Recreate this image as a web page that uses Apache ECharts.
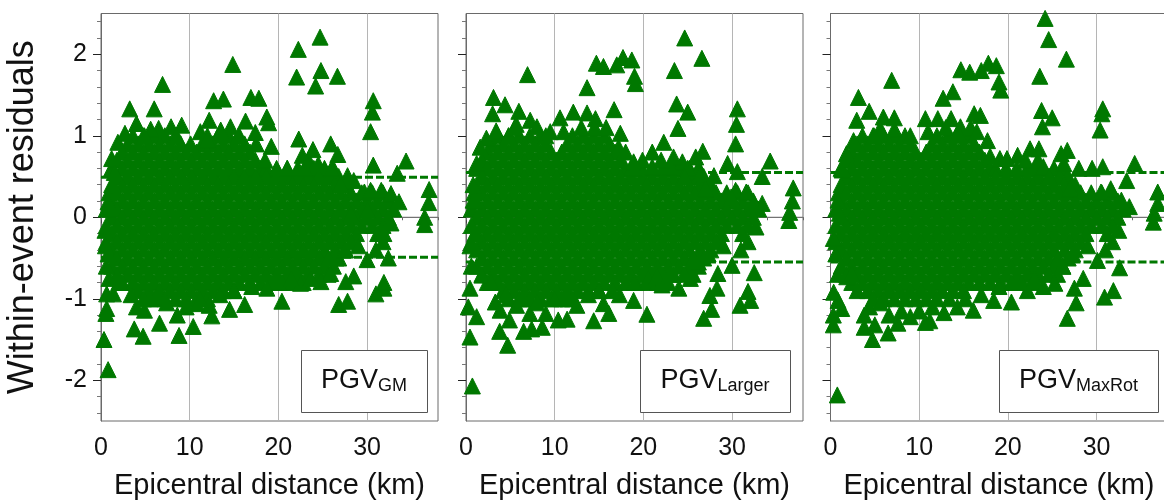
<!DOCTYPE html>
<html><head><meta charset="utf-8">
<style>html,body{margin:0;padding:0;background:#fff;overflow:hidden}#c{width:1164px;height:502px}</style>
<script src="https://cdn.jsdelivr.net/npm/echarts@6/dist/echarts.min.js"></script>
</head><body><div id="c"></div>
<script>
const xMajorTicks=[0,10,20,30];
const xMinorTicks=[0,2,4,6,8,10,12,14,16,18,20,22,24,26,28,30,32,34,36,38];
const yMajorTicks=[-2,-1,0,1,2];
const yMinorTicks=[-2.4,-2.2,-1.8,-1.6,-1.4,-1.2,-0.8,-0.6,-0.4,-0.2,0.2,0.4,0.6,0.8,1.2,1.4,1.6,1.8,2.2,2.4];
const titles=['GM','Larger','MaxRot'];
const limits=[0.49,0.55,0.55];
// dense cloud: [residual, distance, distance, ...]
const cloudRows=[
[1.0,3.6,4.8,6.0,7.2,8.4,12.0,13.2,14.4,15.6],
[0.9,3.0,4.2,5.4,6.6,7.8,9.0,11.4,12.6,13.8,15.0,16.2],
[0.8,2.4,3.6,4.8,6.0,7.2,8.4,9.6,10.8,12.0,13.2,14.4,15.6,16.8],
[0.7,1.8,3.0,4.2,5.4,6.6,7.8,9.0,10.2,11.4,12.6,13.8,15.0,16.2,17.4,23.4],
[0.6,1.2,2.4,3.6,4.8,6.0,7.2,8.4,9.6,10.8,12.0,13.2,14.4,15.6,16.8,18.0,18.6,19.8,21.0,22.2,23.2,24.0,25.2,26.2],
[0.5,1.8,3.0,4.2,5.4,6.6,7.8,9.0,10.2,11.4,12.6,13.8,15.0,16.2,17.4,18.6,19.8,21.0,22.2,23.4,24.6,25.8,26.8],
[0.4,1.2,2.4,3.6,4.8,6.0,7.2,8.4,9.6,10.8,12.0,13.2,14.4,15.6,16.8,18.0,19.2,20.4,21.6,22.8,24.0,25.2,26.4,27.6],
[0.3,0.9,1.8,3.0,4.2,5.4,6.6,7.8,9.0,10.2,11.4,12.6,13.8,15.0,16.2,17.4,18.6,19.8,21.0,22.2,23.4,24.6,25.8,27.0,28.2,29.4,30.6,31.8],
[0.2,1.2,2.4,3.6,4.8,6.0,7.2,8.4,9.6,10.8,12.0,13.2,14.4,15.6,16.8,18.0,19.2,20.4,21.6,22.8,24.0,25.2,26.4,27.6,28.8,30.0,31.2,32.4],
[0.1,0.6,1.8,3.0,4.2,5.4,6.6,7.8,9.0,10.2,11.4,12.6,13.8,15.0,16.2,17.4,18.6,19.8,21.0,22.2,23.4,24.6,25.8,27.0,28.2,29.4,30.6,31.8,33.0],
[0,1.2,2.4,3.6,4.8,6.0,7.2,8.4,9.6,10.8,12.0,13.2,14.4,15.6,16.8,18.0,19.2,20.4,21.6,22.8,24.0,25.2,26.4,27.6,28.8,30.0,31.2,32.4],
[-0.1,0.6,1.8,3.0,4.2,5.4,6.6,7.8,9.0,10.2,11.4,12.6,13.8,15.0,16.2,17.4,18.6,19.8,21.0,22.2,23.4,24.6,25.8,27.0,28.2,29.4,30.6,31.8],
[-0.2,1.2,2.4,3.6,4.8,6.0,7.2,8.4,9.6,10.8,12.0,13.2,14.4,15.6,16.8,18.0,19.2,20.4,21.6,22.8,24.0,25.2,26.4,27.6,28.8,31.2],
[-0.3,0.6,1.8,3.0,4.2,5.4,6.6,7.8,9.0,10.2,11.4,12.6,13.8,15.0,16.2,17.4,18.6,19.8,21.0,22.2,23.4,24.6,25.8,27.0,28.2,31.8],
[-0.4,1.2,2.4,3.6,4.8,6.0,7.2,8.4,9.6,10.8,12.0,13.2,14.4,15.6,16.8,18.0,19.2,20.4,21.6,22.8,24.0,25.2,26.4,27.6],
[-0.5,1.8,3.0,4.2,5.4,6.6,7.8,9.0,10.2,11.4,12.6,13.8,15.0,16.2,17.4,18.6,19.8,21.0,22.2,23.4,24.6,25.6,26.8],
[-0.6,1.2,2.4,3.6,4.8,6.0,7.2,8.4,9.6,10.8,12.0,13.2,14.4,15.6,16.8,18.0,19.2,20.4,21.6,22.8,24.0,25.2,26.2],
[-0.7,1.8,3.0,4.2,5.4,6.6,7.8,9.0,10.2,11.4,12.6,13.8,15.0,16.2,17.4,18.6,19.8,21.0,22.2,23.4,24.6,25.6],
[-0.8,2.4,3.6,4.8,6.0,7.2,8.4,9.6,10.8,12.0,13.2,14.4,15.6,16.8,18.0,19.2,20.4,21.6,22.8],
[-0.9,4.2,5.4,6.6,7.8,9.0,10.2,11.4,12.6,13.8,15.0],
[-1.0,4.8,6.0,7.2,8.4,9.6,10.8,12.0]
];
const gmPoints=[[6.94,1.63],[3.24,1.33],[6,1.33],[14.86,1.875],[22.25,2.06],[24.7,2.21],[22.06,1.72],[24.8,1.8],[24.2,1.61],[26.66,1.73],[30.7,1.43],[30.6,1.29],[30.4,1.05],[30.7,.64],[34.4,.69],[33.4,.54],[37,.34],[36.95,.18],[36.5,0],[36.5,-.09],[12.7,1.43],[13.8,1.45],[16.9,1.47],[17.8,1.46],[18.7,1.23],[18.9,1.16],[12.2,1.19],[16.3,1.18],[17.4,1.04],[9.1,1.13],[7.9,1.11],[6.5,1.09],[5.6,1.08],[4,1.15],[14.6,1.11],[13.5,1.07],[11.2,1.05],[10.1,.9],[22.3,.96],[25.9,.9],[23.9,.83],[22.7,.76],[26.7,.77],[19.2,.87],[1.2,.72],[1.9,.92],[2.7,1.03],[27.8,.51],[28.5,.45],[29.7,.31],[31.6,.33],[32.7,.29],[33.6,.19],[30.4,.33],[28.2,.05],[30,.09],[32.7,-.07],[.45,-.16],[.8,.19],[1.3,.4],[31.9,-.2],[.34,-1.5],[.8,-1.87],[3.75,-1.37],[4.75,-1.46],[8.8,-1.45],[10.4,-1.34],[6.6,-1.3],[12.5,-1.21],[14.5,-1.13],[16.2,-1.07],[20.4,-1.03],[26.8,-1.07],[27.8,-1.03],[27.6,-.79],[28.5,-.72],[31,-.94],[31.9,-.87],[31.9,-.8],[32.4,-.5],[30,-.52],[8.6,-1.2],[4.9,-1.14],[4,-1.1],[10.8,-1.06],[.64,-.94],[1.4,-.94],[.64,-1.12],[.55,-1.18],[.6,-.6],[6.3,-.98],[12.2,-1.08],[24.8,-.79],[22.5,-.81],[25.9,-.69],[18.7,-.87],[.5,-.35],[.9,-.75],[2,-.8],[3.4,-.95],[5.5,-1],[7.4,-1.05],[9.6,-1.1],[11.2,-1],[13.4,-.95],[15,-.9],[17,-.85],[20,-.8],[21.5,-.75],[23.6,-.75],[26.5,-.5],[27.5,-.4],[29,-.35],[31,-.4],[17.5,.9],[18.5,.7],[20,.55],[21,.6],[23,.6],[24.5,.65],[26,.6],[27,.4],[4.9,1],[8.5,1],[12,.95],[15.5,1],[1.5,.55],[1,.1],[.8,-.45]];
const largerPoints=[[6.94,1.75],[3.1,1.47],[4.4,1.38],[3,1.27],[5.96,1.3],[5.66,1.14],[13.65,1.59],[14.7,1.89],[15.5,1.85],[17,1.87],[17.7,1.96],[18.7,1.93],[19,1.73],[19.1,1.64],[24.66,2.2],[26.6,1.95],[23.5,1.8],[23.75,1.39],[25,1.29],[23.9,1.09],[30.6,1.33],[30.5,1.14],[30.4,.9],[29.5,.66],[34.3,.69],[33.4,.5],[30.6,.56],[36.9,.36],[36.8,.2],[36.5,.06],[36.4,-.04],[16.7,1.32],[10.6,1.22],[12.1,1.29],[13.65,1.28],[14.6,1.21],[7.24,1.19],[8,1.11],[3.4,1.06],[2.3,.97],[1.6,.86],[1.2,.66],[17.4,1.03],[17.2,.86],[22.3,.92],[21,.8],[26.7,.81],[25.9,.74],[24.4,.68],[23.4,.74],[19.9,.7],[18.9,.68],[27.96,.51],[26.1,.56],[30.4,.33],[31.6,.31],[33.4,.17],[32.5,.17],[29.9,.25],[.45,-.35],[.8,.21],[.8,.4],[32.7,-.12],[.72,-2.07],[.45,-1.47],[1.2,-1.22],[.26,-1.1],[.45,-.87],[1.8,-.71],[4.7,-1.57],[3.8,-1.4],[4.9,-1.26],[6.5,-1.4],[7.4,-1.37],[8.6,-1.35],[10.4,-1.26],[11.4,-1.25],[14.4,-1.27],[16.1,-1.18],[20.4,-1.19],[26.8,-1.24],[27.7,-1.13],[27.5,-.96],[28.3,-.87],[28.4,-.69],[30,-.59],[32.5,-.68],[31.8,-.91],[32.1,-1.02],[30.9,-1.08],[3.3,-1.04],[3.85,-1.14],[7.2,-1.18],[9,-1.18],[12.5,-1.08],[18.9,-1.02],[22.1,-.83],[24,-.87],[25.3,-.75],[5.7,-1.08],[15.5,-1.06],[17.3,-.95],[4.5,-.95],[6.4,-1],[8,-1.05],[10,-1],[11.5,-1],[13.8,-.95],[15,-.9],[16.5,-.9],[19,-.8],[20.5,-.75],[21.5,-.72],[23,-.7],[26.2,-.55],[27.3,-.45],[29,-.35],[31,-.4],[.6,-.6],[1,-.2],[2.8,-.8],[18,.8],[19,.6],[21,.62],[23,.62],[25,.6],[26.5,.55],[4.8,1],[9,1],[11,1.05],[15.8,1.1],[1,.2],[9.5,1.05],[13,1.1],[14.5,1.1],[5.5,1.1],[22,.7],[24.7,.5],[27,.35]];
const maxRotPoints=[[24.2,2.44],[24.6,2.18],[26.6,1.94],[23.6,1.73],[6.9,1.68],[3.15,1.47],[4.36,1.3],[2.96,1.19],[5.96,1.23],[7.2,1.22],[5.6,1.09],[7.2,1.08],[10.7,1.21],[12.1,1.21],[13.6,1.21],[14.65,1.11],[12.7,1.46],[13.8,1.54],[14.7,1.81],[15.7,1.78],[17,1.8],[17.8,1.89],[18.7,1.86],[19,1.66],[19.2,1.56],[16.2,1.27],[16.9,1.25],[17.7,.94],[23.8,1.31],[25,1.22],[23.9,1.11],[30.7,1.33],[30.6,1.27],[30.4,1.07],[34.3,.66],[33.4,.45],[30.7,.62],[29.5,.6],[28,.6],[26.7,.82],[26,.78],[26.3,.66],[24,.62],[23.5,.84],[22.5,.84],[21.1,.76],[19.9,.72],[19.1,.72],[36.9,.31],[36.9,.17],[36.5,.05],[36.4,-.06],[33.7,.13],[32.8,.21],[31.6,.35],[30.5,.31],[32.5,-.16],[.32,-.26],[1.3,.58],[1.8,.78],[2.6,.94],[.85,.21],[.77,-2.18],[.32,-1.32],[.32,-1.2],[1.27,-1.12],[.85,-1.02],[.36,-.92],[1.83,-.73],[4.73,-1.5],[3.8,-1.35],[5,-1.32],[6.5,-1.42],[3.8,-1.2],[10.7,-1.29],[11.2,-1.27],[7.6,-1.3],[9,-1.22],[12.8,-1.17],[16.1,-1.14],[20.4,-1.04],[22.2,-.9],[24,-.85],[25.3,-.81],[26.7,-1.24],[27.7,-1.05],[27.5,-.87],[28.5,-.75],[30.1,-.53],[32.6,-.62],[30.9,-.98],[31.9,-.9],[14.3,-1.1],[18.4,-1.02],[4.4,-1.1],[5.6,-1.05],[6.6,-1.2],[8,-1.15],[10,-1.15],[11.5,-1.1],[13.4,-1],[15.2,-1],[17,-.95],[19,-.85],[21,-.8],[23,-.75],[26.2,-.6],[27.3,-.45],[29,-.35],[31,-.4],[3,-.9],[2.4,-.7],[.8,-.7],[.6,-.45],[1,.05],[18,.75],[9,1],[4.9,1],[11,1.05],[15.8,1.1],[13,1.1],[14.4,1.05],[16.5,1.05],[22,.7],[24.7,.5],[27,.35]];
const panelPoints=[gmPoints,largerPoints,maxRotPoints];
const green='#007800';
const lefts=[101,466,830.5], gridTop=13.5, gridW=337, gridH=407.5;
const boxes=[[301,126],[640,150],[999,159]];
const font='"Liberation Sans",Arial,sans-serif';
const grid=[],xAxis=[],yAxis=[],series=[],graphic=[];
const allCloud=[];
cloudRows.forEach(r=>r.slice(1).forEach(x=>allCloud.push([x,r[0]])));
lefts.forEach((l,i)=>{
  grid.push({left:l,top:gridTop,width:gridW,height:gridH,outerBoundsMode:'none',containLabel:false,show:true,borderColor:'#6a6a6a',borderWidth:1,backgroundColor:'#fff'});
  const axLine={show:true,lineStyle:{color:'#6a6a6a',width:1}};
  xAxis.push({gridIndex:i,type:'value',min:0,max:38,position:'bottom',
    name:'Epicentral distance (km)',nameLocation:'middle',nameGap:50,nameTextStyle:{fontFamily:font,fontSize:29,color:'#111'},
    axisLine:axLine,axisTick:{show:true,length:6,customValues:xMajorTicks,lineStyle:{color:'#444'}},
    axisLabel:{show:true,customValues:xMajorTicks,margin:15,fontFamily:font,fontSize:25,color:'#111'},
    splitLine:{show:true,lineStyle:{color:'#b5b5b5',width:1}}});
  xAxis.push({gridIndex:i,type:'value',min:0,max:38,position:'bottom',
    axisLine:{show:false},axisTick:{show:true,length:3,customValues:xMinorTicks,lineStyle:{color:'#666'}},
    axisLabel:{show:false},splitLine:{show:false}});
  yAxis.push({gridIndex:i,type:'value',min:-2.5,max:2.5,position:'left',
    name:i===0?'Within-event residuals':'',nameLocation:'middle',nameGap:60,nameRotate:90,nameTextStyle:{fontFamily:font,fontSize:36,color:'#111'},
    axisLine:axLine,axisTick:{show:true,length:8,customValues:yMajorTicks,lineStyle:{color:'#222'}},
    axisLabel:{show:i===0,customValues:yMajorTicks,margin:14,fontFamily:font,fontSize:25,color:'#111'},
    splitLine:{show:false}});
  yAxis.push({gridIndex:i,type:'value',min:-2.5,max:2.5,position:'left',
    axisLine:{show:false},axisTick:{show:true,length:4,customValues:yMinorTicks,lineStyle:{color:'#777'}},
    axisLabel:{show:false},splitLine:{show:false}});
  const xi=i*2, yi=i*2;
  const lineS=(data,style,name)=>({type:'line',name,xAxisIndex:xi,yAxisIndex:yi,data,symbol:'none',silent:true,clip:false,lineStyle:style,z:1});
  series.push(lineS([[0,0],[38,0]],{color:'#777',width:1},'zero'));
  series.push(lineS([[0,limits[i]],[38,limits[i]]],{color:green,width:3,type:[8,3]},'+sigma'));
  series.push(lineS([[0,-limits[i]],[38,-limits[i]]],{color:green,width:3,type:[8,3]},'-sigma'));
  series.push(lineS([[-0.8,limits[i]],[0,limits[i]]],{color:'#8fbf8f',width:1},'+sigma stub'));
  series.push(lineS([[-0.8,-limits[i]],[0,-limits[i]]],{color:'#8fbf8f',width:1},'-sigma stub'));
  series.push({type:'scatter',name:'PGV'+titles[i],xAxisIndex:xi,yAxisIndex:yi,clip:false,symbol:'triangle',symbolSize:16,
    itemStyle:{color:green,opacity:1,borderColor:green,borderWidth:1},large:false,progressive:0,animation:false,z:3,
    data:allCloud.concat(panelPoints[i])});
  const b=boxes[i];
  graphic.push({type:'rect',z:100,shape:{x:b[0]+.5,y:350.5,width:b[1],height:62},style:{fill:'#fff',stroke:'#555',lineWidth:1}});
  graphic.push({type:'text',z:101,x:b[0]+b[1]/2,y:381,style:{text:'{a|PGV}{b|'+titles[i]+'}',align:'center',verticalAlign:'middle',
    rich:{a:{fontFamily:font,fontSize:27,fill:'#111',color:'#111'},b:{fontFamily:font,fontSize:18,fill:'#111',color:'#111',padding:[10,0,0,0]}}}});
});
const chart=echarts.init(document.getElementById('c'),null,{renderer:'canvas'});
chart.setOption({animation:false,grid,xAxis,yAxis,series,graphic,tooltip:{show:false},legend:{show:false}});
</script></body></html>
